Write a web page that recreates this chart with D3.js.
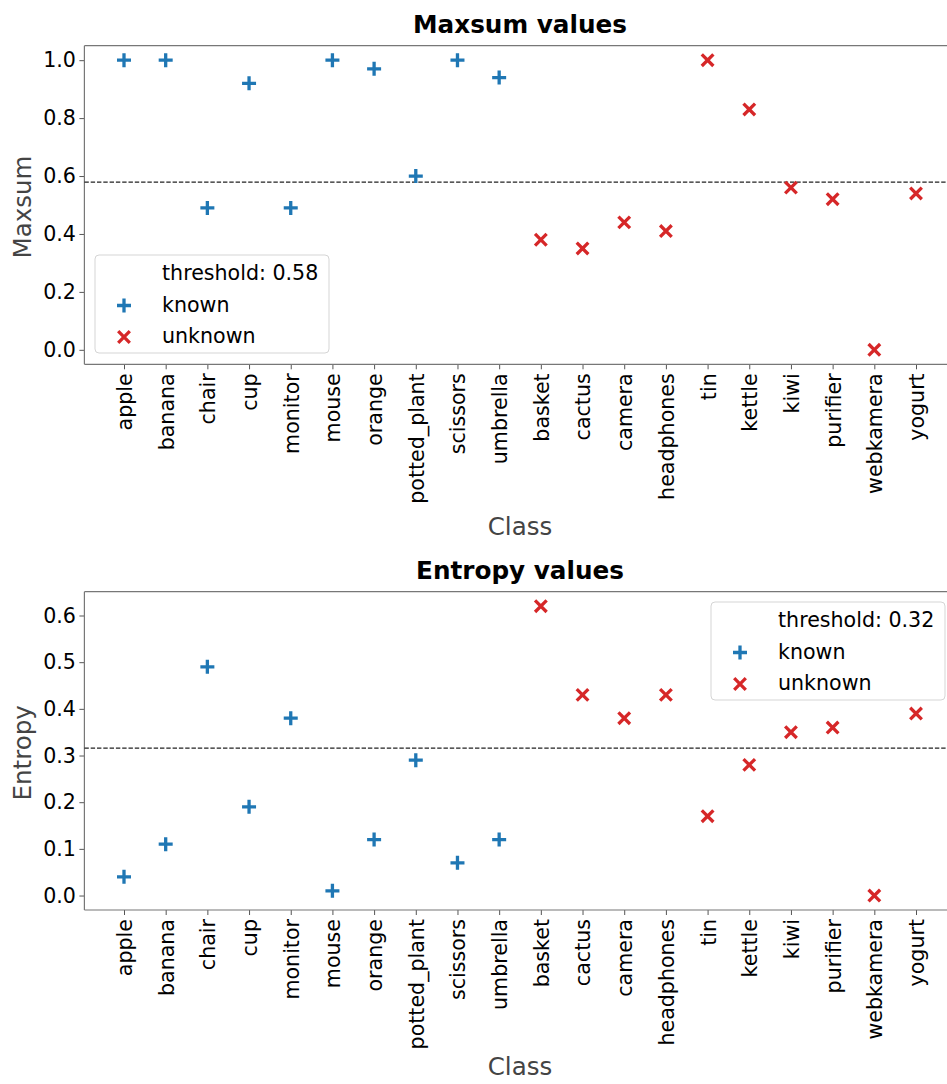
<!DOCTYPE html>
<html>
<head>
<meta charset="utf-8">
<script src="https://cdn.jsdelivr.net/npm/d3@7"></script>
<style>
  body { margin: 0; background: #fff; overflow: hidden; }
  svg { display: block; font-family: "DejaVu Sans", sans-serif; }
</style>
</head>
<body>
<div id="chart"></div>
<script>
// classes on the x axis, first 10 are known, last 10 unknown
const classes = ['apple', 'banana', 'chair', 'cup', 'monitor', 'mouse', 'orange', 'potted_plant', 'scissors', 'umbrella',
  'basket', 'cactus', 'camera', 'headphones', 'tin', 'kettle', 'kiwi', 'purifier', 'webkamera', 'yogurt']
const knownClasses = classes.slice(0, 10)

const maxsumValues = [1.0, 1.0, 0.49, 0.92, 0.49, 1.0, 0.97, 0.60, 1.0, 0.94,
  0.38, 0.35, 0.44, 0.41, 1.0, 0.83, 0.56, 0.52, 0.0, 0.54]
const entropyValues = [0.04, 0.11, 0.49, 0.19, 0.38, 0.01, 0.12, 0.29, 0.07, 0.12,
  0.62, 0.43, 0.38, 0.43, 0.17, 0.28, 0.35, 0.36, 0.0, 0.39]

const maxsumThreshold = 0.579
const entropyThreshold = 0.316
const maxsumTicks = [0.0, 0.2, 0.4, 0.6, 0.8, 1.0]
const entropyTicks = [0.0, 0.1, 0.2, 0.3, 0.4, 0.5, 0.6]

const width = 947, height = 1084
const blue = '#1f77b4', red = '#d62728'
const tickFont = 20.6

var svg = d3.select('#chart').append('svg')
  .attr('width', width)
  .attr('height', height)

svg.append('rect').attr('width', width).attr('height', height).attr('fill', '#fff')

// x positions shared by both panels (right edge falls outside the picture)
var left = 84.4, right = 955.6
var x = d3.scalePoint()
  .domain(classes)
  .range([left, right])
  .padding(0.95)

function markerPath(kind) {
  if (kind == 'known') return 'M-7,0H7M0,-7V7'
  return 'M-5.8,-5.8L5.8,5.8M-5.8,5.8L5.8,-5.8'
}

function drawPanel(opts) {
  let top = opts.top, bottom = opts.bottom
  let y = d3.scaleLinear().domain(opts.domain).range([bottom, top])
  let g = svg.append('g')

  // title
  g.append('text')
    .attr('x', (left + right) / 2)
    .attr('y', opts.titleY)
    .attr('text-anchor', 'middle')
    .attr('font-size', 24.7)
    .attr('font-weight', 'bold')
    .attr('fill', '#000')
    .text(opts.title)

  // y axis
  let yAxis = g.append('g')
    .attr('transform', `translate(${left},0)`)
    .call(d3.axisLeft(y).tickValues(opts.ticks).tickFormat(d3.format('.1f')).tickSize(5).tickSizeOuter(0).tickPadding(3.5))
  yAxis.select('.domain').remove()
  yAxis.selectAll('line').attr('stroke', '#555').attr('stroke-width', 1)
  yAxis.selectAll('text')
    .attr('font-size', tickFont)
    .attr('font-family', 'DejaVu Sans')
    .attr('fill', '#000')

  // x axis with vertical labels
  let xAxis = g.append('g')
    .attr('transform', `translate(0,${bottom})`)
    .call(d3.axisBottom(x).tickSize(5).tickSizeOuter(0))
  xAxis.select('.domain').remove()
  xAxis.selectAll('line').attr('stroke', '#555').attr('stroke-width', 1)
  xAxis.selectAll('text')
    .attr('font-size', tickFont)
    .attr('font-family', 'DejaVu Sans')
    .attr('fill', '#000')
    .attr('text-anchor', 'end')
    .attr('transform', 'rotate(-90)')
    .attr('x', -9)
    .attr('y', 0)
    .attr('dy', '0.36em')

  // spines: left, top, bottom (right one is off the picture)
  let spines = [[left, top, left, bottom], [left, top, right, top], [left, bottom, right, bottom]]
  g.selectAll('.spine').data(spines).enter().append('line')
    .attr('class', 'spine')
    .attr('x1', d => d[0]).attr('y1', d => d[1])
    .attr('x2', d => d[2]).attr('y2', d => d[3])
    .attr('stroke', '#777')
    .attr('stroke-width', 1.2)

  // threshold line
  g.append('line')
    .attr('x1', left)
    .attr('x2', right)
    .attr('y1', y(opts.threshold))
    .attr('y2', y(opts.threshold))
    .attr('stroke', '#222')
    .attr('stroke-width', 1.2)
    .attr('stroke-dasharray', '4.4,1.9')

  // points
  g.selectAll('.pt').data(classes).enter().append('path')
    .attr('class', 'pt')
    .attr('transform', (d, i) => `translate(${x(d)},${y(opts.values[i])})`)
    .attr('d', d => markerPath(knownClasses.includes(d) ? 'known' : 'unknown'))
    .attr('stroke', d => knownClasses.includes(d) ? blue : red)
    .attr('stroke-width', 3.3)
    .attr('fill', 'none')

  // axis labels
  g.append('text')
    .attr('transform', `translate(31,${(top + bottom) / 2 + 2}) rotate(-90)`)
    .attr('text-anchor', 'middle')
    .attr('font-size', 24.5)
    .attr('fill', '#444')
    .text(opts.yLabel)

  g.append('text')
    .attr('x', (left + right) / 2)
    .attr('y', opts.xLabelY)
    .attr('text-anchor', 'middle')
    .attr('font-size', 24.5)
    .attr('fill', '#444')
    .text('Class')

  // legend
  let lg = g.append('g').attr('transform', `translate(${opts.legend[0]},${opts.legend[1]})`)
  lg.append('rect')
    .attr('width', 234)
    .attr('height', 98)
    .attr('rx', 4)
    .attr('fill', '#fff')
    .attr('fill-opacity', 0.8)
    .attr('stroke', '#d5d5d5')
    .attr('stroke-width', 1)
  let entries = [
    {label: 'threshold: ' + opts.thresholdLabel, kind: null},
    {label: 'known', kind: 'known'},
    {label: 'unknown', kind: 'unknown'}
  ]
  entries.forEach((e, i) => {
    let cy = 18 + i * 31.5
    if (e.kind) {
      lg.append('path')
        .attr('transform', `translate(29,${cy + 1})`)
        .attr('d', markerPath(e.kind))
        .attr('stroke', e.kind == 'known' ? blue : red)
        .attr('stroke-width', 3.3)
        .attr('fill', 'none')
    }
    lg.append('text')
      .attr('x', 67)
      .attr('y', cy)
      .attr('dy', '0.36em')
      .attr('font-size', tickFont)
      .attr('fill', '#000')
      .text(e.label)
  })
}

drawPanel({
  title: 'Maxsum values', titleY: 33,
  top: 45.7, bottom: 364.3, domain: [-0.05, 1.05],
  ticks: maxsumTicks, values: maxsumValues,
  threshold: maxsumThreshold, thresholdLabel: '0.58',
  yLabel: 'Maxsum', xLabelY: 535,
  legend: [95, 255]
})

drawPanel({
  title: 'Entropy values', titleY: 578.5,
  top: 591.7, bottom: 910, domain: [-0.031, 0.651],
  ticks: entropyTicks, values: entropyValues,
  threshold: entropyThreshold, thresholdLabel: '0.32',
  yLabel: 'Entropy', xLabelY: 1075,
  legend: [711, 602]
})
</script>
</body>
</html>
